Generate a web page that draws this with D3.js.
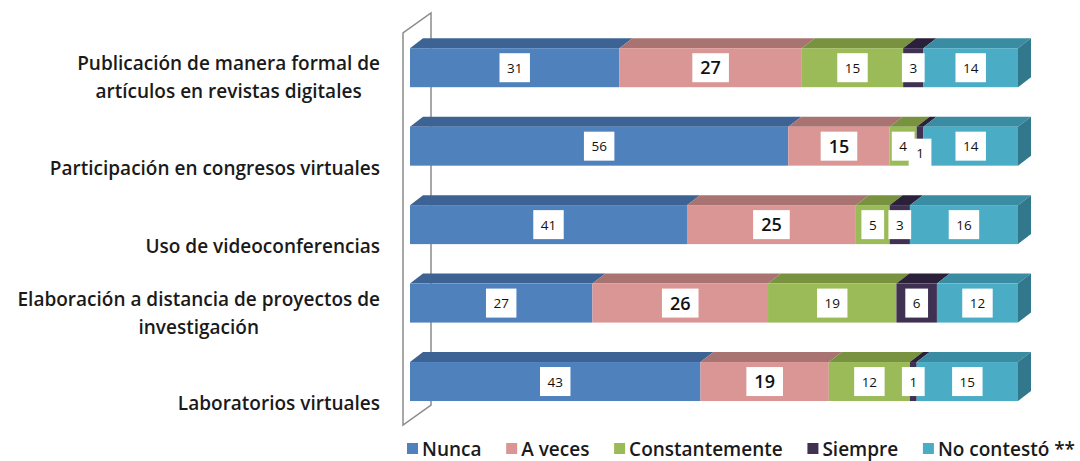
<!DOCTYPE html>
<html>
<head>
<meta charset="utf-8">
<script src="https://cdn.jsdelivr.net/npm/d3@7"></script>
<style>
  body { margin: 0; background: #fff; }
  text { font-family: "Open Sans", sans-serif; }
</style>
</head>
<body>
<div id="container"></div>
<script>
let w = 1080;
let h = 461;

// data
const categories = [
  "Publicación de manera formal de\nartículos en revistas digitales",
  "Participación en congresos virtuales",
  "Uso de videoconferencias",
  "Elaboración a distancia de proyectos de\ninvestigación",
  "Laboratorios virtuales"
];
const seriesNames = ["Nunca", "A veces", "Constantemente", "Siempre", "No contestó **"];
const nunca          = [31, 56, 41, 27, 43];
const aVeces         = [27, 15, 25, 26, 19];
const constantemente = [15,  4,  5, 19, 12];
const siempre        = [ 3,  1,  3,  6,  1];
const noContesto     = [14, 14, 16, 12, 15];

const frontColor = ["#4F81BD", "#D99694", "#9BBB59", "#403152", "#4BACC6"];
const topColor   = ["#3C6394", "#A87371", "#789240", "#2B2039", "#3A8CA2"];
const sideColor = "#31788C";

let allSeries = [nunca, aVeces, constantemente, siempre, noContesto];
let table = categories.map((c, i) => {
  let row = {cat: c};
  seriesNames.forEach((s, j) => row[s] = allSeries[j][i]);
  return row;
});

let viz = d3.select("#container")
  .append("svg")
    .attr("width", w)
    .attr("height", h)
    .style("background-color", "white");

let maxTotal = d3.max(table, d => d3.sum(seriesNames, s => d[s]));
let xScale = d3.scaleLinear().domain([0, maxTotal]).range([410, 1018]);
let yScale = d3.scaleBand().domain(categories).range([8.75, 440.5]).padding(0.503);

let dx = 13, dy = 10;   // bar depth
let wallDx = 28, wallDy = 20;

// side wall
let y0 = 33, y1 = 425, wx = 403;
viz.append("path")
  .attr("d", `M${wx},${y1} L${wx},${y0} L${wx + wallDx},${y0 - wallDy} L${wx + wallDx},${y1 - wallDy} Z`)
  .attr("fill", "white")
  .attr("stroke", "#8c8c8c")
  .attr("stroke-width", 1.5);

let stacked = d3.stack().keys(seriesNames)(table);

// bars
stacked.forEach((layer, j) => {
  let g = viz.append("g").attr("class", "layer");
  layer.forEach((seg, i) => {
    let yTop = yScale(categories[i]);
    let bh = yScale.bandwidth();
    let xa = xScale(seg[0]), xb = xScale(seg[1]);
    g.append("path")
      .attr("d", `M${xa},${yTop} L${xa + dx},${yTop - dy} L${xb + dx},${yTop - dy} L${xb},${yTop} Z`)
      .attr("fill", topColor[j]);
    g.append("rect")
      .attr("x", xa).attr("y", yTop)
      .attr("width", xb - xa).attr("height", bh)
      .attr("fill", frontColor[j]);
    if (j === seriesNames.length - 1) {
      g.append("path")
        .attr("d", `M${xb},${yTop} L${xb + dx},${yTop - dy} L${xb + dx},${yTop + bh - dy} L${xb},${yTop + bh} Z`)
        .attr("fill", sideColor);
    }
  });
});

// value labels
categories.forEach((c, i) => {
  let prevRight = -Infinity;
  stacked.forEach((layer, j) => {
    let seg = layer[i];
    let v = seg[1] - seg[0];
    let cx = (xScale(seg[0]) + xScale(seg[1])) / 2;
    let cy = yScale(c) + yScale.bandwidth() / 2;
    let big = j === 1;
    let t = viz.append("text")
      .attr("text-anchor", "middle")
      .style("font-size", big ? "18px" : "13.5px")
      .style("font-weight", big ? 600 : 400)
      .attr("fill", "#111")
      .text(v);
    let tw = t.node().getComputedTextLength();
    let bw = tw + (big ? 16 : 15);
    let bx = cx - bw / 2;
    if (bx < prevRight) cy += 7;
    prevRight = bx + bw;
    viz.insert("rect", () => t.node())
      .attr("x", bx).attr("y", cy - 14.5)
      .attr("width", bw).attr("height", 29)
      .attr("fill", "white");
    t.attr("x", cx).attr("y", cy + (big ? 6.5 : 5));
  });
});

// category labels
categories.forEach((c, i) => {
  let lines = c.split("\n");
  let cy = yScale(c) + yScale.bandwidth() / 2 + (lines.length === 1 ? 22 : 10);
  let lh = 28;
  let texts = lines.map((l, k) => viz.append("text")
    .attr("text-anchor", "middle")
    .attr("y", cy + (k - (lines.length - 1) / 2) * lh + 6.5)
    .style("font-size", "19px")
    .style("font-weight", 600)
    .attr("fill", "#1a1a1a")
    .text(l));
  let maxW = d3.max(texts, t => t.node().getComputedTextLength());
  texts.forEach(t => t.attr("x", 380 - maxW / 2));
});

// legend
let legend = viz.append("g");
let items = seriesNames.map((s, j) => {
  let t = legend.append("text")
    .attr("y", 456)
    .style("font-size", "19px")
    .style("font-weight", 600)
    .attr("fill", "#1a1a1a")
    .text(s);
  return {t: t, w: t.node().getComputedTextLength(), j: j};
});
let sq = 11, gapIn = 4;
let used = d3.sum(items, d => d.w + sq + gapIn);
let gap = (1075 - 407 - used) / (items.length - 1);
let lx = 407;
items.forEach(d => {
  legend.append("rect")
    .attr("x", lx).attr("y", 443)
    .attr("width", sq).attr("height", sq)
    .attr("fill", frontColor[d.j]);
  d.t.attr("x", lx + sq + gapIn);
  lx += sq + gapIn + d.w + gap;
});
</script>
</body>
</html>
